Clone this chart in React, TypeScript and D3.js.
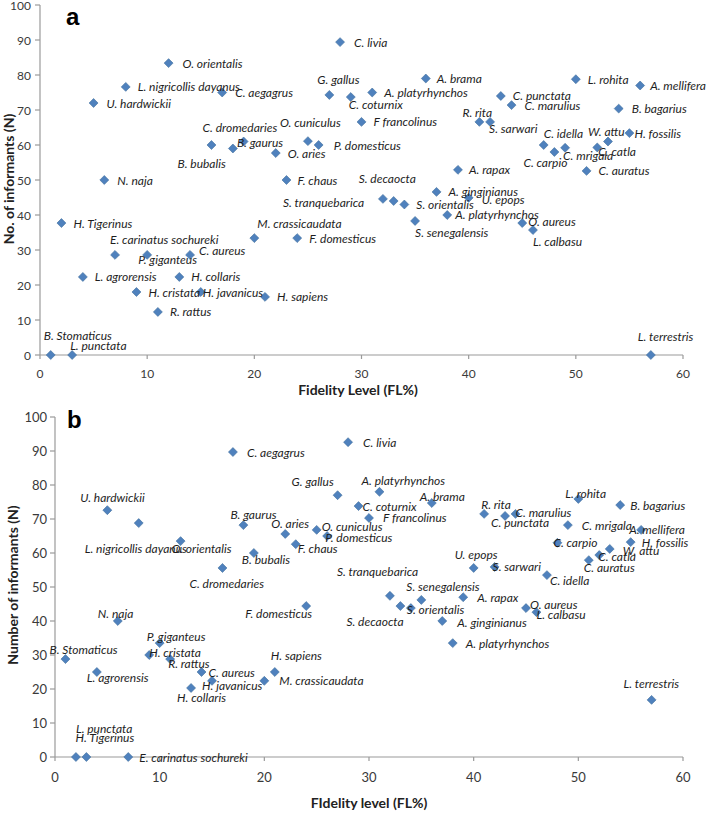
import React from "react";
import * as d3 from "d3";

// ---------- Panel a data ----------
const namesA = [
  "O. orientalis", "L. nigricollis dayanus", "U. hardwickii", "C. aegagrus", "C. livia",
  "G. gallus", "C. coturnix", "A. platyrhynchos", "A. brama", "F francolinus",
  "O. cuniculus", "P. domesticus", "O. aries", "C. dromedaries", "B. gaurus",
  "B. bubalis", "F. chaus", "S. decaocta", "S. tranquebarica", "S. orientalis",
  "S. senegalensis", "A. ginginianus", "A. platyrhynchos", "U. epops", "O. aureus",
  "L. calbasu", "L. terrestris", "A. rapax", "C. punctata", "C. marulius",
  "R. rita", "S. sarwari", "L. rohita", "A. mellifera", "B. bagarius",
  "C. idella", "C. carpio", "C. mrigala", "W. attu", "C. catla",
  "H. fossilis", "C. auratus", "N. naja", "H. Tigerinus", "E. carinatus sochureki",
  "P. giganteus", "C. aureus", "L. agrorensis", "H. collaris", "H. cristata",
  "H. javanicus", "R. rattus", "B. Stomaticus", "L. punctata", "M. crassicaudata",
  "F. domesticus", "H. sapiens",
];
const flA = [
  12, 8, 5, 17, 28, 27, 29, 31, 36, 30,
  25, 26, 22, 19, 18, 16, 23, 33, 32, 34,
  35, 37, 38, 40, 45, 46, 57, 39, 43, 44,
  41, 42, 50, 56, 54, 47, 48, 49, 53, 52,
  55, 51, 6, 2, 7, 10, 14, 4, 13, 9,
  15, 11, 1, 3, 20, 24, 21,
];
const nA = [
  83.4, 76.6, 72, 75, 89.4, 74.3, 73.7, 75, 79, 66.6,
  61.1, 60, 57.7, 61, 59, 60, 50, 44, 44.6, 43,
  38.3, 46.6, 40, 44.9, 37.7, 35.7, 0, 52.9, 74, 71.4,
  66.6, 66.6, 78.8, 77, 70.4, 60, 58, 59.2, 61, 59.3,
  63.4, 52.6, 50, 37.7, 28.6, 28.6, 28.6, 22.3, 22.3, 18,
  18, 12.3, 0, 0, 33.4, 33.4, 16.6,
];
// label placement (layout only)
const labelOffA: [number, number][] = [
  [14, 0], [12, 0], [13, 0], [13, 0], [14, 0], [-12, -15], [-2, 7], [12, 0], [11, 0], [12, 0],
  [-28, -19], [15, 0], [12, 0], [-41, -14], [4, -6], [-34, 18], [11, 0], [-35, -23], [-100, 4], [12, 0],
  [0, 12], [12, 0], [8, -1], [13, 2], [6, -2], [0, 11], [-13, -19], [11, 0], [12, -1], [13, 0],
  [-17, -9], [-1, 7], [12, 0], [10, 0], [13, 0], [0, -12], [-31, 10], [-2, 8], [-20, -10], [1, 4],
  [5, 0], [12, 0], [13, 0], [12, 0], [-5, -15], [-9, 5], [9, -4], [12, 0], [12, 0], [12, 0],
  [2, 0], [12, 0], [-7, -20], [-2, -10], [3, -15], [12, 0], [12, 0],
];

// ---------- Panel b data ----------
const namesB = [
  "C. aegagrus", "C. livia", "G. gallus", "A. platyrhynchos", "C. coturnix",
  "A. brama", "F francolinus", "B. gaurus", "O. aries", "O. cuniculus",
  "P. domesticus", "F. chaus", "B. bubalis", "C. dromedaries", "L. nigricollis dayanus",
  "U. hardwickii", "O. orientalis", "N. naja", "B. Stomaticus", "L. agrorensis",
  "P. giganteus", "H. cristata", "R. rattus", "C. aureus", "H. javanicus",
  "H. collaris", "L. punctata", "H. Tigerinus", "E. carinatus sochureki", "H. sapiens",
  "M. crassicaudata", "F. domesticus", "S. tranquebarica", "S. decaocta", "S. orientalis",
  "S. senegalensis", "A. rapax", "A. ginginianus", "A. platyrhynchos", "U. epops",
  "S. sarwari", "C. idella", "O. aureus", "L. calbasu", "L. terrestris",
  "R. rita", "C. punctata", "C. marulius", "L. rohita", "B. bagarius",
  "C. mrigala", "C. carpio", "A. mellifera", "H. fossilis", "W. attu",
  "C. catla", "C. auratus",
];
const flB = [
  17, 28, 27, 31, 29, 36, 30, 18, 22, 25,
  26, 23, 19, 16, 8, 5, 12, 6, 1, 4,
  10, 9, 11, 14, 15, 13, 2, 3, 7, 21,
  20, 24, 32, 33, 34, 35, 39, 37, 38, 40,
  42, 47, 45, 46, 57, 41, 43, 44, 50, 54,
  49, 48, 56, 55, 53, 52, 51,
];
const nB = [
  89.7, 92.6, 77, 78, 73.8, 74.7, 70.3, 68.2, 65.6, 66.8,
  65, 62.6, 60, 55.6, 68.8, 72.6, 63.5, 40, 28.8, 25,
  33.5, 30, 28.8, 25, 22.4, 20.3, 0, 0, 0, 25,
  22.4, 44.4, 47.4, 44.4, 43.8, 46.2, 47, 40, 33.5, 55.6,
  55.9, 53.5, 43.8, 42.6, 16.8, 71.5, 70.9, 71.5, 75.9, 74.1,
  68.2, 63, 66.8, 63.2, 61.2, 59.4, 57.9,
];
const labelOffB: [number, number][] = [
  [14, 0], [15, 0], [-46, -14], [-18, -11], [4, 0], [-12, -7], [14, 0], [-13, -11], [-14, -10], [5, -3],
  [-2, 1], [2, 4], [-12, 6], [-33, 16], [-54, 25], [-27, -13], [-9, 7], [-20, -8], [-16, -10], [-10, 5],
  [-13, -7], [0, -3], [-2, 4], [7, 0], [-10, 5], [-14, 10], [0, -29], [-11, -20], [11, 0], [-4, -17],
  [15, 0], [-61, 7], [-53, -24], [-54, 15], [-4, 1], [-15, -13], [14, 0], [15, 1], [13, 0], [-19, -13],
  [-2, 0], [3, 5], [4, -4], [0, 2], [-28, -16], [-3, -9], [-14, 7], [0, -1], [-13, -5], [10, 0],
  [14, 0], [-4, 0], [-12, 0], [11, 0], [13, 2], [-1, 1], [-5, 7],
];

const xTicks = [0, 10, 20, 30, 40, 50, 60];
const yTicks = [0, 10, 20, 30, 40, 50, 60, 70, 80, 90, 100];

const BLUE = "#4F81BD";
const AXIS = "#9a9a9a";
const FONT = "Lato, 'Liberation Sans', sans-serif";

type PanelProps = {
  names: string[];
  xs: number[];
  ys: number[];
  offs: [number, number][];
  x0: number; x1: number; y0: number; y1: number;
  letter: string; letterX: number; letterY: number;
  xTitle: string; xTitleX: number; xTitleY: number;
  yTitle: string; yTitleX: number; yTitleY: number;
  tickSize: number; yTickRight: number; xTickY: number;
};

function Panel(p: PanelProps) {
  const x = d3.scaleLinear().domain([0, 60]).range([p.x0, p.x1]);
  const y = d3.scaleLinear().domain([0, 100]).range([p.y0, p.y1]);
  const diamond = d3.symbol(d3.symbolSquare, 40)();
  return (
    <g>
      {/* axes */}
      <line x1={p.x0} x2={p.x0} y1={y(100)} y2={y(0)} stroke={AXIS} strokeWidth={1.2} />
      <line x1={p.x0} x2={p.x1} y1={y(0)} y2={y(0)} stroke={AXIS} strokeWidth={1.2} />
      {yTicks.map((t) => (
        <g key={"y" + t}>
          <line x1={p.x0 - 5} x2={p.x0} y1={y(t)} y2={y(t)} stroke={AXIS} strokeWidth={1.2} />
          <text x={p.yTickRight} y={y(t)} textAnchor="end" dominantBaseline="central"
            fontSize={p.tickSize} fill="#3a3a3a" fontFamily={FONT}>{t}</text>
        </g>
      ))}
      {xTicks.map((t) => (
        <g key={"x" + t}>
          <line x1={x(t)} x2={x(t)} y1={y(0)} y2={y(0) + 4} stroke={AXIS} strokeWidth={1.2} />
          <text x={x(t)} y={p.xTickY} textAnchor="middle" dominantBaseline="central"
            fontSize={p.tickSize} fill="#3a3a3a" fontFamily={FONT}>{t}</text>
        </g>
      ))}
      {/* titles */}
      <text x={p.xTitleX} y={p.xTitleY} textAnchor="middle" dominantBaseline="central"
        fontSize={14} fontWeight="bold" fill="#222" fontFamily={FONT}>{p.xTitle}</text>
      <text transform={`translate(${p.yTitleX},${p.yTitleY}) rotate(-90)`} textAnchor="middle"
        dominantBaseline="central" fontSize={14} fontWeight="bold" fill="#222" fontFamily={FONT}>{p.yTitle}</text>
      <text x={p.letterX} y={p.letterY} fontSize={24} fontWeight="bold" fill="#000"
        fontFamily="'Liberation Sans', Arial, sans-serif">{p.letter}</text>
      {/* points */}
      {p.names.map((n, i) => (
        <path key={"p" + i} d={diamond || ""}
          transform={`translate(${x(p.xs[i])},${y(p.ys[i])}) rotate(45)`}
          fill={BLUE} stroke="#44729f" strokeWidth={0.6} />
      ))}
      {p.names.map((n, i) => (
        <text key={"t" + i} x={x(p.xs[i]) + p.offs[i][0]} y={y(p.ys[i]) + p.offs[i][1]}
          dominantBaseline="central" fontSize={12} fontStyle="italic" fill="#1e1e1e"
          fontFamily={FONT}>{n}</text>
      ))}
    </g>
  );
}

export default function App() {
  return (
    <svg width={709} height={813} viewBox="0 0 709 813"
      style={{ position: "absolute", left: 0, top: 0, background: "#fff" }}>
      <rect width={709} height={813} fill="#fff" />
      <Panel names={namesA} xs={flA} ys={nA} offs={labelOffA}
        x0={40} x1={683} y0={355} y1={5}
        letter="a" letterX={66} letterY={25}
        xTitle="Fidelity Level (FL%)" xTitleX={358} xTitleY={389}
        yTitle="No. of informants (N)" yTitleX={8} yTitleY={179}
        tickSize={12} yTickRight={31} xTickY={373} />
      <Panel names={namesB} xs={flB} ys={nB} offs={labelOffB}
        x0={55} x1={683} y0={757} y1={417}
        letter="b" letterX={67} letterY={428}
        xTitle="FIdelity level (FL%)" xTitleX={369} xTitleY={802}
        yTitle="Number of informants (N)" yTitleX={12} yTitleY={585}
        tickSize={13} yTickRight={47} xTickY={777} />
    </svg>
  );
}
